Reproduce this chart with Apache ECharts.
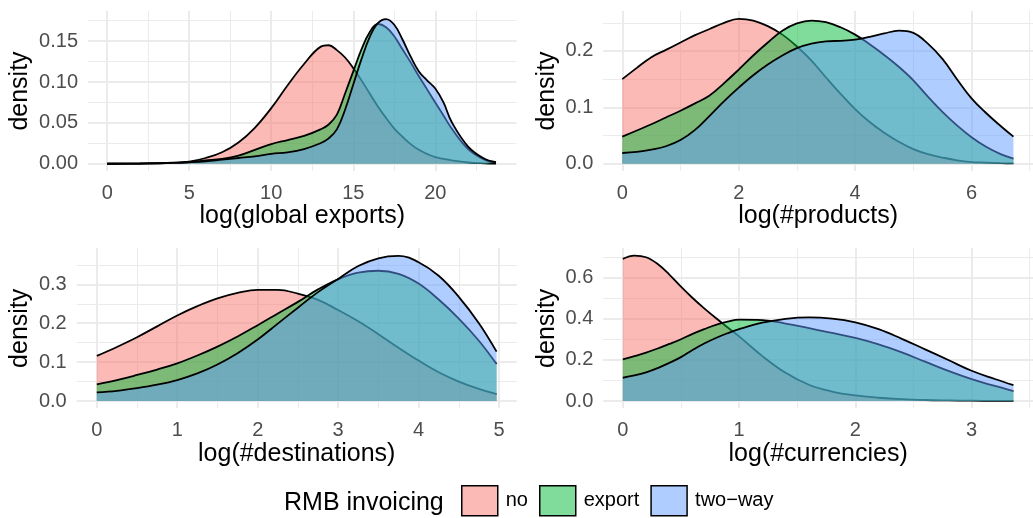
<!DOCTYPE html>
<html><head><meta charset="utf-8">
<script src="https://cdn.jsdelivr.net/npm/echarts@6/dist/echarts.min.js"></script>
<style>html,body{margin:0;padding:0;background:#fff}#c{width:1033px;height:518px}</style>
</head><body><div id="c"></div>
<script>
const seriesNames = ['no', 'export', 'two\u2212way'];
const fillColors = ['#F8766D', '#00BA38', '#619CFF'];
const legendFills = ['rgba(248,118,109,0.5)', 'rgba(0,186,56,0.5)', 'rgba(97,156,255,0.5)'];

// Panel 1: log(global exports)
const exportsX   = [0, 2, 4, 5, 6, 7, 8, 9, 10, 11, 12, 13, 13.5, 14, 14.5, 15, 15.5, 16, 16.5, 17, 17.5, 18, 18.5, 19, 19.5, 20, 20.5, 21, 22, 23, 23.7];
const exportsNo  = [0, 0.0003, 0.0012, 0.0025, 0.007, 0.014, 0.026, 0.044, 0.068, 0.096, 0.122, 0.143, 0.145, 0.139, 0.130, 0.117, 0.102, 0.086, 0.070, 0.056, 0.043, 0.033, 0.024, 0.017, 0.012, 0.008, 0.006, 0.004, 0.0015, 0.0005, 0.0002];
const exportsExp = [0, 0.0002, 0.001, 0.002, 0.004, 0.006, 0.010, 0.017, 0.024, 0.029, 0.034, 0.042, 0.048, 0.060, 0.086, 0.113, 0.140, 0.161, 0.171, 0.167, 0.156, 0.140, 0.124, 0.107, 0.091, 0.075, 0.059, 0.043, 0.018, 0.005, 0.001];
const exportsTwo = [0, 0.0002, 0.001, 0.0018, 0.003, 0.005, 0.007, 0.009, 0.012, 0.014, 0.018, 0.025, 0.031, 0.042, 0.066, 0.097, 0.128, 0.155, 0.172, 0.177, 0.170, 0.152, 0.131, 0.113, 0.102, 0.092, 0.075, 0.051, 0.021, 0.006, 0.002];

// Panel 2: log(#products)
const productsX   = [0, 0.25, 0.5, 0.75, 1, 1.25, 1.5, 1.75, 2, 2.25, 2.5, 2.75, 3, 3.25, 3.5, 3.75, 4, 4.25, 4.5, 4.75, 5, 5.25, 5.5, 5.75, 6, 6.25, 6.5, 6.72];
const productsNo  = [0.150, 0.170, 0.189, 0.202, 0.215, 0.228, 0.239, 0.250, 0.257, 0.254, 0.244, 0.229, 0.208, 0.183, 0.153, 0.124, 0.097, 0.074, 0.055, 0.039, 0.026, 0.017, 0.011, 0.006, 0.003, 0.002, 0.001, 0.0005];
const productsExp = [0.048, 0.059, 0.070, 0.082, 0.094, 0.107, 0.121, 0.143, 0.167, 0.192, 0.215, 0.236, 0.249, 0.254, 0.251, 0.242, 0.229, 0.212, 0.193, 0.172, 0.148, 0.119, 0.092, 0.068, 0.047, 0.030, 0.017, 0.009];
const productsTwo = [0.019, 0.021, 0.025, 0.031, 0.042, 0.060, 0.085, 0.111, 0.135, 0.157, 0.176, 0.192, 0.205, 0.213, 0.217, 0.218, 0.220, 0.225, 0.231, 0.236, 0.232, 0.213, 0.186, 0.150, 0.116, 0.090, 0.067, 0.048];

// Panel 3: log(#destinations)
const destX   = [0, 0.25, 0.5, 0.75, 1, 1.25, 1.5, 1.75, 2, 2.25, 2.5, 2.75, 3, 3.25, 3.5, 3.75, 4, 4.25, 4.5, 4.75, 4.97];
const destNo  = [0.116, 0.139, 0.164, 0.192, 0.220, 0.244, 0.264, 0.278, 0.286, 0.286, 0.276, 0.260, 0.234, 0.205, 0.172, 0.137, 0.104, 0.074, 0.050, 0.031, 0.018];
const destExp = [0.043, 0.054, 0.067, 0.081, 0.097, 0.117, 0.140, 0.166, 0.195, 0.225, 0.255, 0.287, 0.313, 0.330, 0.335, 0.327, 0.302, 0.261, 0.212, 0.155, 0.095];
const destTwo = [0.022, 0.026, 0.033, 0.042, 0.054, 0.071, 0.094, 0.123, 0.158, 0.199, 0.240, 0.280, 0.314, 0.347, 0.367, 0.373, 0.357, 0.322, 0.268, 0.200, 0.127];

// Panel 4: log(#currencies)
const curX   = [0, 0.1, 0.2, 0.3, 0.4, 0.5, 0.6, 0.7, 0.8, 0.9, 1.0, 1.2, 1.4, 1.6, 1.8, 2.0, 2.2, 2.4, 2.6, 2.8, 3.0, 3.2, 3.36];
const curNo  = [0.690, 0.706, 0.698, 0.665, 0.614, 0.555, 0.500, 0.450, 0.403, 0.358, 0.314, 0.218, 0.137, 0.079, 0.046, 0.027, 0.016, 0.009, 0.005, 0.003, 0.0015, 0.0008, 0.0005];
const curExp = [0.202, 0.218, 0.235, 0.255, 0.277, 0.300, 0.326, 0.349, 0.370, 0.385, 0.395, 0.393, 0.376, 0.354, 0.331, 0.306, 0.275, 0.236, 0.191, 0.146, 0.106, 0.073, 0.048];
const curTwo = [0.113, 0.124, 0.139, 0.160, 0.185, 0.213, 0.248, 0.279, 0.306, 0.329, 0.349, 0.380, 0.399, 0.406, 0.400, 0.382, 0.349, 0.302, 0.251, 0.199, 0.147, 0.107, 0.077];

// Axis breaks
const exportsXTicks = [0, 5, 10, 15, 20];
const exportsXMinor = [2.5, 7.5, 12.5, 17.5, 22.5];
const exportsYTicks = [0, 0.05, 0.10, 0.15];
const exportsYMinor = [0.025, 0.075, 0.125, 0.175];
const productsXTicks = [0, 2, 4, 6];
const productsXMinor = [1, 3, 5, 7];
const productsYTicks = [0, 0.1, 0.2];
const productsYMinor = [0.05, 0.15, 0.25];
const destXTicks = [0, 1, 2, 3, 4, 5];
const destXMinor = [0.5, 1.5, 2.5, 3.5, 4.5];
const destYTicks = [0, 0.1, 0.2, 0.3];
const destYMinor = [0.05, 0.15, 0.25, 0.35];
const curXTicks = [0, 1, 2, 3];
const curXMinor = [0.5, 1.5, 2.5, 3.5];
const curYTicks = [0, 0.2, 0.4, 0.6];
const curYMinor = [0.1, 0.3, 0.5, 0.7];

const panels = [
  { name: 'log(global exports)', x: exportsX, ys: [exportsNo, exportsExp, exportsTwo],
    xr: [-1.17, 24.95], yr: [-0.0089, 0.1869], xt: exportsXTicks, xm: exportsXMinor, yt: exportsYTicks, ym: exportsYMinor, dec: 2,
    grid: { left: 88, top: 11, width: 428.5, height: 160 }, yGap: 55 },
  { name: 'log(#products)', x: productsX, ys: [productsNo, productsExp, productsTwo],
    xr: [-0.326, 7.056], yr: [-0.0129, 0.2709], xt: productsXTicks, xm: productsXMinor, yt: productsYTicks, ym: productsYMinor, dec: 1,
    grid: { left: 603.3, top: 11, width: 440, height: 160 }, yGap: 44 },
  { name: 'log(#destinations)', x: destX, ys: [destNo, destExp, destTwo],
    xr: [-0.25, 5.22], yr: [-0.0187, 0.3927], xt: destXTicks, xm: destXMinor, yt: destYTicks, ym: destYMinor, dec: 1,
    grid: { left: 76.7, top: 248.3, width: 440, height: 160 }, yGap: 44 },
  { name: 'log(#currencies)', x: curX, ys: [curNo, curExp, curTwo],
    xr: [-0.168, 3.528], yr: [-0.0353, 0.7413], xt: curXTicks, xm: curXMinor, yt: curYTicks, ym: curYMinor, dec: 1,
    grid: { left: 603.3, top: 248.3, width: 440, height: 160 }, yGap: 44 }
];

const FONT = '"Liberation Sans", Arial, Helvetica, sans-serif';
const grid = [], xAxis = [], yAxis = [], series = [];
panels.forEach((p, i) => {
  grid.push(Object.assign({ containLabel: false }, p.grid));
  xAxis.push({
    type: 'value', gridIndex: i, min: p.xr[0], max: p.xr[1], position: 'bottom',
    axisLine: { show: false, onZero: false },
    axisTick: { show: false, customValues: p.xt },
    axisLabel: { customValues: p.xt, margin: 12, fontSize: 20, color: '#4D4D4D', fontFamily: FONT, formatter: v => String(v) },
    splitLine: { show: true, lineStyle: { color: '#EBEBEB', width: 2 } },
    name: p.name, nameLocation: 'middle', nameGap: 30,
    nameTextStyle: { fontSize: 25, color: '#000', fontFamily: FONT }
  });
  xAxis.push({
    type: 'value', gridIndex: i, min: p.xr[0], max: p.xr[1], position: 'bottom',
    axisLine: { show: false, onZero: false },
    axisTick: { show: false, customValues: p.xm },
    axisLabel: { show: false, customValues: p.xm },
    splitLine: { show: true, lineStyle: { color: '#EBEBEB', width: 1 } }
  });
  yAxis.push({
    type: 'value', gridIndex: i, min: p.yr[0], max: p.yr[1], position: 'left',
    axisLine: { show: false, onZero: false },
    axisTick: { show: false, customValues: p.yt },
    axisLabel: { customValues: p.yt, margin: 10, fontSize: 20, color: '#4D4D4D', fontFamily: FONT, formatter: v => Number(v).toFixed(p.dec) },
    splitLine: { show: true, lineStyle: { color: '#EBEBEB', width: 2 } },
    name: 'density', nameLocation: 'middle', nameGap: p.yGap,
    nameTextStyle: { fontSize: 25, color: '#000', fontFamily: FONT }
  });
  yAxis.push({
    type: 'value', gridIndex: i, min: p.yr[0], max: p.yr[1], position: 'left',
    axisLine: { show: false, onZero: false },
    axisTick: { show: false, customValues: p.ym },
    axisLabel: { show: false, customValues: p.ym },
    splitLine: { show: true, lineStyle: { color: '#EBEBEB', width: 1 } }
  });
  p.ys.forEach((vals, k) => {
    series.push({
      type: 'line', name: seriesNames[k], xAxisIndex: 2 * i, yAxisIndex: 2 * i,
      data: p.x.map((xv, j) => [xv, vals[j]]),
      smooth: 0.4, symbol: 'none', showSymbol: false,
      lineStyle: { color: '#000', width: 1.8 },
      itemStyle: { color: legendFills[k] },
      areaStyle: { color: fillColors[k], opacity: 0.5, origin: 'auto' },
      z: 2 + k, animation: false, silent: true
    });
  });
});

const chart = echarts.init(document.getElementById('c'), null, { renderer: 'canvas' });
chart.setOption({
  animation: false,
  backgroundColor: '#fff',
  textStyle: { fontFamily: FONT },
  grid, xAxis, yAxis, series,
  legend: {
    left: 461, top: 485, padding: 0, itemWidth: 36, itemHeight: 30, itemGap: 11, icon: 'rect', selectedMode: false,
    data: seriesNames.map((n, k) => ({ name: n, itemStyle: { color: legendFills[k], borderColor: '#000', borderWidth: 1.5 } })),
    textStyle: { fontSize: 20, color: '#000', fontFamily: FONT, padding: [0, 0, 0, 3] }
  },
  graphic: [{
    type: 'text', left: 284, top: 491,
    style: { text: 'RMB invoicing', fontSize: 25, fontFamily: FONT, fill: '#000' }
  }]
});
</script></body></html>
